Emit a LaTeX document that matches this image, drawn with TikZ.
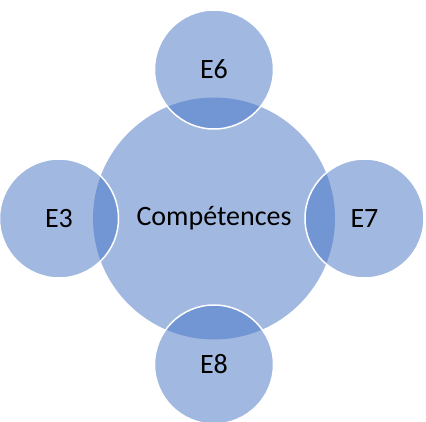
\documentclass[tikz,border=0pt]{standalone}
\usepackage{fontspec}
\setmainfont{Carlito}
\definecolor{skillblue}{RGB}{68,114,196}
\usepackage{tikz}
\usetikzlibrary{positioning}
\tikzset{
node distance=150pt, % distance from the middle circle to the outer ones
every node/.style={circle, inner sep=0pt, font=\fontsize{28}{34}\selectfont}, % all nodes are round
}
\tikzset{
  core/.style={fill=skillblue, fill opacity=0.5, text opacity=1, minimum size=242pt},
  field/.append style={core, draw=white, draw opacity=1, line width=1.5pt, minimum size=119pt}
}

\begin{document}
\begin{tikzpicture}
      \useasboundingbox (0,0) rectangle (426pt,421pt);
      \node[core] (core) at (214pt,202.5pt) {Compétences};
      \node[field, above of=core, yshift=-1pt] (e6) {E6};
      \node[field, left of=core, xshift=-5pt] (e3) {E3};
      \node[field, right of=core, xshift=0.5pt] (e7) {E7};
      \node[field, below of=core, yshift=4pt] (e8) {E8};
    \end{tikzpicture}
\end{document}
